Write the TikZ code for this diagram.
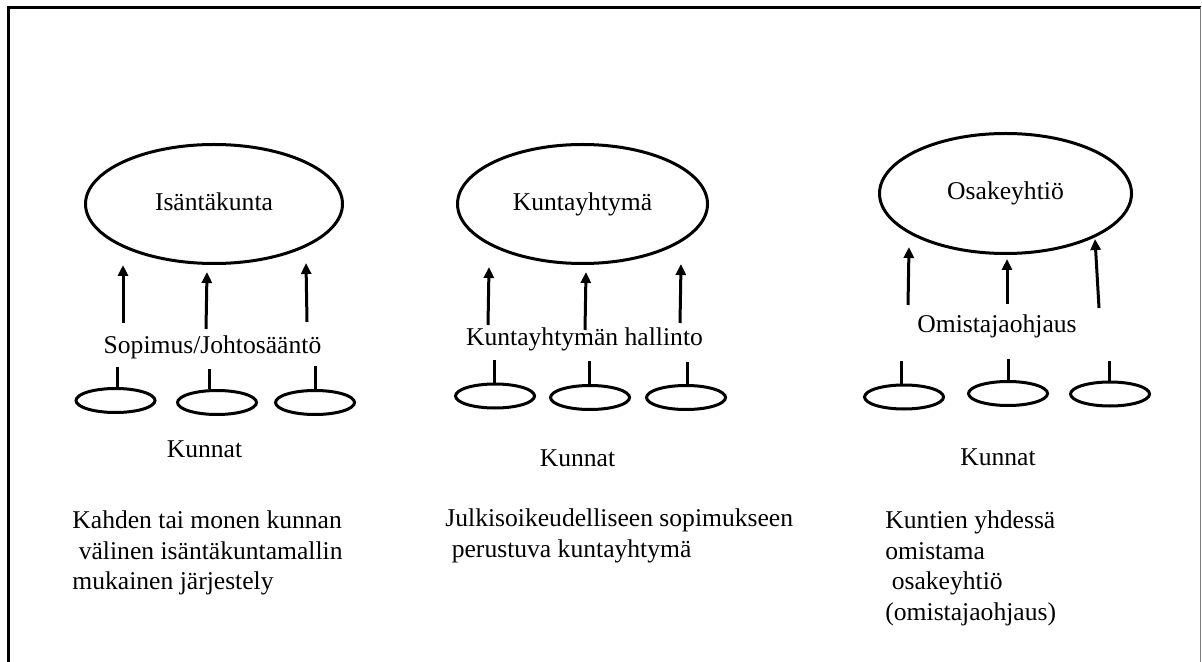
\documentclass[tikz,border=0pt]{standalone}
\usepackage{fontspec}
\setmainfont{Liberation Serif}
\usetikzlibrary{shapes.geometric,arrows.meta}
\begin{document}
\begin{tikzpicture}[x=0.5pt,y=-0.5pt,
  txt/.style={font=\fontsize{12.8pt}{15.25pt}\selectfont, inner sep=0pt},
  bigell/.style={ellipse, draw, line width=1.5pt, inner sep=0pt, txt,
    text height=9pt, text depth=2.6pt},
  smallell/.style={ellipse, draw, line width=1.5pt, inner sep=0pt,
    minimum width=39.5pt, minimum height=12pt},
  uparrow/.style={line width=1.5pt, -{Triangle[width=5pt,length=5.5pt]}},
  stem/.style={line width=1.5pt},
  lbl/.style={txt, anchor=base},
  desc/.style={txt, anchor=north west, align=left},
]
\useasboundingbox (0,0) rectangle (1202,662);

% outer frame (bottom edge lies below the page)
\draw[line width=1.5pt] (8.5,662) -- (8.5,7.5) -- (1200.5,7.5);
\draw[gray, line width=0.6pt] (1200.5,7.5) -- (1200.5,662);

% ---------- host municipality model ----------
\node[bigell, minimum width=128.5pt, minimum height=59.5pt] (host) at (214,204) {Isäntäkunta};
\coordinate (h1b) at (123,323); \coordinate (h1t) at (123,265);
\coordinate (h2b) at (206,329); \coordinate (h2t) at (207,272);
\coordinate (h3b) at (307,322); \coordinate (h3t) at (306,263);
\draw[uparrow] (h1b) -- (h1t);
\draw[uparrow] (h2b) -- (h2t);
\draw[uparrow] (h3b) -- (h3t);
\node[lbl] (hostlbl) at (212.5,353) {Sopimus/Johtosääntö};
\node[smallell] (hk1) at (115.5,400.5) {};
\node[smallell] (hk2) at (217,402.5) {};
\node[smallell] (hk3) at (315,402.5) {};
\coordinate (hs1) at (117,367);
\coordinate (hs2) at (209,369);
\coordinate (hs3) at (315,366);
\draw[stem] (hs1) -- (hs1 |- hk1.north);
\draw[stem] (hs2) -- (hs2 |- hk2.north);
\draw[stem] (hs3) -- (hs3 |- hk3.north);
\node[lbl] (hostkun) at (204.5,457) {Kunnat};
\node[desc] (hostdesc) at (72,510.5) {Kahden tai monen kunnan\\
  \hspace*{0.25em}välinen isäntäkuntamallin\\
  mukainen järjestely};

% ---------- joint municipal authority ----------
\node[bigell, minimum width=125pt, minimum height=59.5pt] (joint) at (582.5,204) {Kuntayhtymä};
\coordinate (j1b) at (488,325); \coordinate (j1t) at (489,267);
\coordinate (j2b) at (585,330); \coordinate (j2t) at (586,272);
\coordinate (j3b) at (680,323); \coordinate (j3t) at (681,264);
\draw[uparrow] (j1b) -- (j1t);
\draw[uparrow] (j2b) -- (j2t);
\draw[uparrow] (j3b) -- (j3t);
\node[lbl] (jointlbl) at (584.5,345) {Kuntayhtymän hallinto};
\node[smallell] (jk1) at (495,396) {};
\node[smallell] (jk2) at (590,397.5) {};
\node[smallell] (jk3) at (686,397.5) {};
\coordinate (js1) at (494,360);
\coordinate (js2) at (589,361);
\coordinate (js3) at (687,362);
\draw[stem] (js1) -- (js1 |- jk1.north);
\draw[stem] (js2) -- (js2 |- jk2.north);
\draw[stem] (js3) -- (js3 |- jk3.north);
\node[lbl] (jointkun) at (577.5,466) {Kunnat};
\node[desc] (jointdesc) at (445,508.5) {Julkisoikeudelliseen sopimukseen\\
  \hspace*{0.25em}perustuva kuntayhtymä};

% ---------- limited company ----------
\node[bigell, minimum width=126pt, minimum height=60pt] (comp) at (1005.5,193.5) {Osakeyhtiö};
\coordinate (c1b) at (908,305); \coordinate (c1t) at (909,247);
\coordinate (c2b) at (1007,304); \coordinate (c2t) at (1007,259);
\coordinate (c3b) at (1099,308); \coordinate (c3t) at (1095,239);
\draw[uparrow] (c1b) -- (c1t);
\draw[uparrow] (c2b) -- (c2t);
\draw[uparrow] (c3b) -- (c3t);
\node[lbl] (complbl) at (997,332) {Omistajaohjaus};
\node[smallell] (ck1) at (904,397) {};
\node[smallell] (ck2) at (1008,393.5) {};
\node[smallell] (ck3) at (1110,394) {};
\coordinate (cs1) at (901,361);
\coordinate (cs2) at (1008,359);
\coordinate (cs3) at (1109,361);
\draw[stem] (cs1) -- (cs1 |- ck1.north);
\draw[stem] (cs2) -- (cs2 |- ck2.north);
\draw[stem] (cs3) -- (cs3 |- ck3.north);
\node[lbl] (compkun) at (998,465) {Kunnat};
\node[desc] (compdesc) at (885,510.5) {Kuntien yhdessä\\
  omistama\\
  \hspace*{0.25em}osakeyhtiö\\
  (omistajaohjaus)};
\end{tikzpicture}
\end{document}
